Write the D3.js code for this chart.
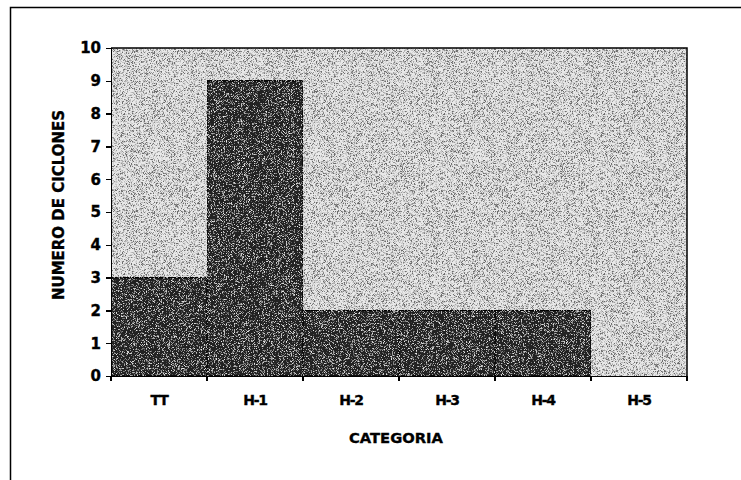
<!DOCTYPE html>
<meta charset="utf-8">
<style>
body {
  margin: 0;
  background-color: #ffffff;
}
svg text {
  font-family: "DejaVu Sans", "Liberation Sans", Arial, sans-serif;
  font-weight: bold;
  fill: #000;
  stroke: #000;
  stroke-width: 0.35px;
}
.axis path,
.axis line {
  fill: none;
  stroke: #000;
  stroke-width: 1.5px;
  shape-rendering: crispEdges;
}
</style>
<svg width="741" height="480"></svg>
<script src="https://d3js.org/d3.v7.min.js"></script>
<script>
// data
var categories = ["TT", "H-1", "H-2", "H-3", "H-4", "H-5"];
var counts = [3, 9, 2, 2, 2, 0];
var yTickValues = [0, 1, 2, 3, 4, 5, 6, 7, 8, 9, 10];

var svg = d3.select("svg"),
    margin = {top: 48, right: 54, bottom: 104, left: 111},
    width = +svg.attr("width") - margin.left - margin.right,
    height = +svg.attr("height") - margin.top - margin.bottom;

var defs = svg.append("defs");

// scanned speckle: dark dots on the light plot area, light flecks on the bars
function speckle(id, seed, freq, rgb, k, b) {
  var f = defs.append("filter").attr("id", id)
      .attr("x", 0).attr("y", 0).attr("width", 1).attr("height", 1);
  f.append("feTurbulence").attr("type", "fractalNoise")
      .attr("baseFrequency", freq).attr("numOctaves", 2).attr("seed", seed).attr("result", "n");
  f.append("feColorMatrix").attr("in", "n").attr("type", "matrix")
      .attr("values", "0 0 0 0 " + rgb + "  0 0 0 0 " + rgb + "  0 0 0 0 " + rgb + "  " + k + " 0 0 0 " + b)
      .attr("result", "dots");
  f.append("feComposite").attr("in", "dots").attr("in2", "SourceGraphic").attr("operator", "in").attr("result", "d2");
  var m = f.append("feMerge");
  m.append("feMergeNode").attr("in", "SourceGraphic");
  m.append("feMergeNode").attr("in", "d2");
}
speckle("speckDark", 4, 1.6, 0.15, 4.5, -2.05);
speckle("speckLight", 9, 1.4, 0.85, 4.0, -2.15);

// outer frame (only top and left edges survive on the scan)
svg.append("path")
    .attr("d", "M10.5,480V7.5H741")
    .attr("fill", "none")
    .attr("stroke", "#000")
    .attr("stroke-width", 1.5);

var x = d3.scaleBand().domain(categories).range([0, width]).padding(0);
var y = d3.scaleLinear().domain([0, 10]).range([height, 0]);

var g = svg.append("g")
    .attr("transform", "translate(" + margin.left + "," + margin.top + ")");

g.append("rect")
    .attr("width", width)
    .attr("height", height)
    .attr("fill", "#e9e9e9")
    .attr("filter", "url(#speckDark)");

g.selectAll(".bar")
    .data(counts)
  .enter().append("rect")
    .attr("class", "bar")
    .attr("x", function(d, i) { return x(categories[i]); })
    .attr("y", function(d) { return y(d); })
    .attr("width", x.bandwidth())
    .attr("height", function(d) { return height - y(d); })
    .attr("fill", "#242424")
    .attr("stroke", "#000")
    .attr("stroke-width", 1.5)
    .attr("filter", "url(#speckLight)");

// plot border top/right
g.append("path")
    .attr("d", "M0,0H" + width + "V" + height)
    .attr("fill", "none")
    .attr("stroke", "#000")
    .attr("stroke-width", 1.5);

var yAxis = g.append("g")
    .attr("class", "axis")
    .call(d3.axisLeft(y).tickValues(yTickValues).tickSize(5).tickPadding(5));
yAxis.selectAll("text").style("font-size", "15px");

var xAxis = g.append("g")
    .attr("class", "axis")
    .attr("transform", "translate(0," + height + ")")
    .call(d3.axisBottom(x).tickSize(0).tickPadding(19));
xAxis.selectAll("text").style("font-size", "14px").attr("letter-spacing", "-1.2");

// ticks at the category boundaries
var edges = categories.map(function(c) { return x(c); }).concat([x.range()[1]]);
xAxis.selectAll(".edge")
    .data(edges)
  .enter().append("line")
    .attr("class", "edge")
    .attr("x1", function(d) { return d; })
    .attr("x2", function(d) { return d; })
    .attr("y1", 0)
    .attr("y2", 5)
    .attr("stroke", "#000");

svg.append("text")
    .attr("x", 396)
    .attr("y", 443)
    .attr("text-anchor", "middle")
    .attr("textLength", 94)
    .attr("lengthAdjust", "spacingAndGlyphs")
    .style("font-size", "14px")
    .text("CATEGORIA");

svg.append("text")
    .attr("transform", "translate(64,300) rotate(-90)")
    .attr("textLength", 190)
    .attr("lengthAdjust", "spacingAndGlyphs")
    .style("font-size", "15px")
    .text("NUMERO DE CICLONES");
</script>
